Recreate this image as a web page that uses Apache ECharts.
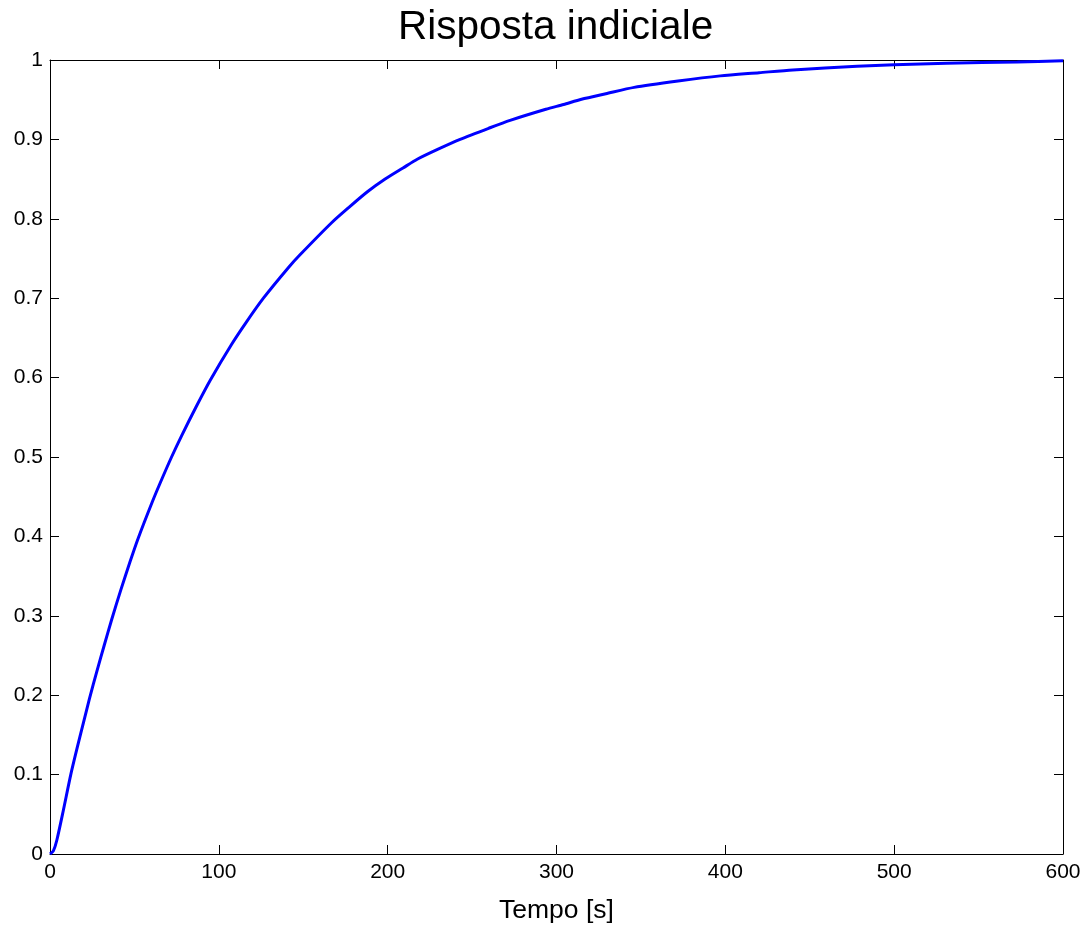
<!DOCTYPE html>
<html>
<head>
<meta charset="utf-8">
<title>Risposta indiciale</title>
<script src="https://cdn.jsdelivr.net/npm/echarts@6/dist/echarts.min.js"></script>
<style>
  html, body { margin: 0; padding: 0; background: #fff; }
  #chart { width: 1086px; height: 929px; }
</style>
</head>
<body>
<div id="chart"></div>
<script>
// Step response samples: time [s] and output
const tempo = [0, 2, 4, 8, 12.3, 16, 20, 23.3, 28, 32, 36.5, 42, 47.4, 52.3, 60.5, 65, 72, 78, 86.5, 95, 107.6, 116, 126.4, 141.4, 147.8, 166.8, 177.4, 188, 198.5, 209.1, 217.5, 230.2, 242.9, 259.8, 272.5, 293.7, 304.2, 314.8, 329.2, 346, 372, 397, 420, 440, 478, 500, 531, 573, 600];
const risposta = [0, 0.004, 0.017, 0.056, 0.1, 0.133, 0.167, 0.195, 0.232, 0.262, 0.295, 0.333, 0.368, 0.398, 0.443, 0.466, 0.5, 0.527, 0.563, 0.597, 0.642, 0.669, 0.7, 0.739, 0.754, 0.795, 0.815, 0.834, 0.85, 0.864, 0.875, 0.888, 0.9, 0.914, 0.924, 0.938, 0.944, 0.9505, 0.9575, 0.9655, 0.9735, 0.98, 0.984, 0.9875, 0.992, 0.994, 0.996, 0.9975, 0.999];

const xTicks = { min: 0, max: 600, interval: 100 };
const yTicks = { min: 0, max: 1, interval: 0.1 };

const FONT = '"Liberation Sans", Arial, Helvetica, sans-serif';
const points = tempo.map((t, i) => [t, risposta[i]]);

const chart = echarts.init(document.getElementById('chart'), null, { renderer: 'canvas' });

const lineStyle = { color: '#000', width: 1 };
const tickStyle = { show: true, inside: true, length: 9, lineStyle: { color: '#000', width: 1 } };

chart.setOption({
  animation: false,
  backgroundColor: '#fff',
  title: {
    text: 'Risposta indiciale',
    left: 393,
    top: 2,
    textStyle: { fontFamily: FONT, fontSize: 40.5, fontWeight: 'normal', color: '#000' }
  },
  grid: { left: 50, right: 23, top: 60, bottom: 69, containLabel: false },
  xAxis: [
    {
      type: 'value', position: 'bottom',
      min: xTicks.min, max: xTicks.max, interval: xTicks.interval,
      name: 'Tempo [s]', nameLocation: 'middle', nameGap: 43,
      nameTextStyle: { fontFamily: FONT, fontSize: 26.5, color: '#000' },
      axisLine: { show: true, onZero: false, lineStyle },
      axisTick: tickStyle,
      axisLabel: { fontFamily: FONT, fontSize: 21, color: '#000', margin: 8 },
      splitLine: { show: false }
    },
    {
      type: 'value', position: 'top',
      min: xTicks.min, max: xTicks.max, interval: xTicks.interval,
      axisLine: { show: true, onZero: false, lineStyle },
      axisTick: tickStyle,
      axisLabel: { show: false },
      splitLine: { show: false }
    }
  ],
  yAxis: [
    {
      type: 'value', position: 'left',
      min: yTicks.min, max: yTicks.max, interval: yTicks.interval,
      axisLine: { show: true, onZero: false, lineStyle },
      axisTick: tickStyle,
      axisLabel: { fontFamily: FONT, fontSize: 21, color: '#000', margin: 7 },
      splitLine: { show: false }
    },
    {
      type: 'value', position: 'right',
      min: yTicks.min, max: yTicks.max, interval: yTicks.interval,
      axisLine: { show: true, onZero: false, lineStyle },
      axisTick: tickStyle,
      axisLabel: { show: false },
      splitLine: { show: false }
    }
  ],
  series: [
    {
      type: 'line',
      xAxisIndex: 0, yAxisIndex: 0,
      data: points,
      smooth: 0.25,
      showSymbol: false,
      lineStyle: { color: '#0000ff', width: 3 },
      clip: true
    }
  ]
});
</script>
</body>
</html>
